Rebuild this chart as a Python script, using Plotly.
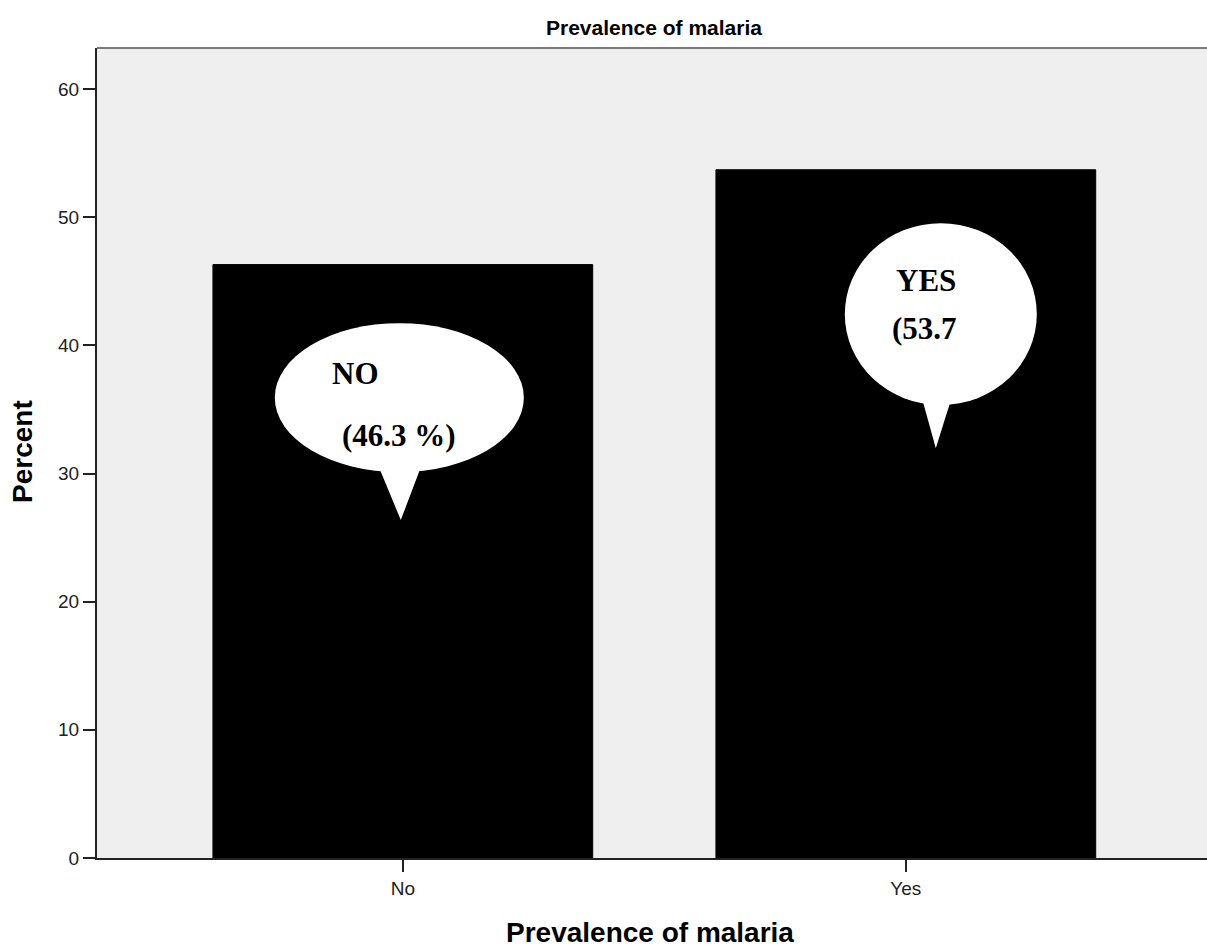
import plotly.graph_objects as go

categories = ["No", "Yes"]
percent = [46.3, 53.7]
y_ticks = [0, 10, 20, 30, 40, 50, 60]
bubble_titles = ["NO", "YES"]
bubble_values = ["(46.3 %)", "(53.7"]

W, H = 1207, 949
L, T, B = 97, 48, 91
plot_w = W - L
plot_h = H - T - B

fig = go.Figure()
fig.add_trace(go.Bar(
    x=[0, 1], y=percent, width=0.755,
    marker=dict(color="black", line=dict(color="black", width=1)),
    hoverinfo="skip", showlegend=False,
))

shapes = []
# speech bubble NO (ellipse + tail)
shapes.append(dict(type="circle", xref="x", yref="y", x0=-0.2545, x1=0.2406, y0=30.11, y1=41.73,
                   fillcolor="white", line=dict(width=0), layer="above"))
shapes.append(dict(type="path", xref="x", yref="y",
                   path="M -0.0497 30.7 L 0.0378 30.7 L -0.004 26.37 Z",
                   fillcolor="white", line=dict(width=0), layer="above"))
# speech bubble YES
shapes.append(dict(type="circle", xref="x", yref="y", x0=0.8787, x1=1.2604, y0=35.34, y1=49.53,
                   fillcolor="white", line=dict(width=0), layer="above"))
shapes.append(dict(type="path", xref="x", yref="y",
                   path="M 1.0298 36.2 L 1.0934 36.2 L 1.0596 31.98 Z",
                   fillcolor="white", line=dict(width=0), layer="above"))
# top border
shapes.append(dict(type="line", xref="paper", yref="paper", x0=0, x1=1, y0=1, y1=1,
                   line=dict(color="#7a7a7a", width=2), layer="above"))

serif = dict(family="Liberation Serif", size=31, color="black")
sans_title = dict(family="Liberation Sans", size=28, color="black")


def px_x(p):
    return (p - L) / plot_w


def px_y(p):
    return (T + plot_h - p) / plot_h


annotations = [
    dict(x=-0.0944, y=37.83, xref="x", yref="y", text="<b>%s</b>" % bubble_titles[0],
         showarrow=False, font=serif),
    dict(x=-0.008, y=33.0, xref="x", yref="y", text="<b>%s</b>" % bubble_values[0],
         showarrow=False, font=serif),
    dict(x=1.0398, y=45.09, xref="x", yref="y", text="<b>%s</b>" % bubble_titles[1],
         showarrow=False, font=serif),
    dict(x=1.0378, y=41.34, xref="x", yref="y", text="<b>%s</b>" % bubble_values[1],
         showarrow=False, font=serif),
    # axis titles
    dict(x=px_x(650), y=px_y(932), xref="paper", yref="paper",
         text="<b>Prevalence of malaria</b>", showarrow=False, font=sans_title,
         xanchor="center", yanchor="middle"),
    dict(x=px_x(22), y=px_y(452), xref="paper", yref="paper",
         text="<b>Percent</b>", showarrow=False, font=sans_title, textangle=-90,
         xanchor="center", yanchor="middle"),
]

fig.update_layout(
    width=W, height=H,
    margin=dict(l=L, r=0, t=T, b=B, autoexpand=False),
    paper_bgcolor="white", plot_bgcolor="#efefef",
    shapes=shapes, annotations=annotations,
    title=dict(text="<b>Prevalence of malaria</b>", x=654 / W, xanchor="center",
               y=1 - 28 / H, yanchor="middle",
               font=dict(family="Liberation Sans", size=21, color="black")),
    font=dict(family="Liberation Sans", size=19, color="#222222"),
)
fig.update_xaxes(
    range=[-0.608, -0.608 + plot_w / 503.0], tickvals=[0, 1], ticktext=categories,
    showgrid=False, zeroline=False,
    showline=True, linecolor="#222222", linewidth=2,
    ticks="outside", ticklen=12, tickcolor="#222222", tickwidth=2,
    tickfont=dict(family="Liberation Sans", size=19, color="#222222"),
)
fig.update_yaxes(
    range=[0, 63.2], tickvals=y_ticks,
    showgrid=False, zeroline=False,
    showline=True, linecolor="#222222", linewidth=2,
    ticks="outside", ticklen=12, tickcolor="#222222", tickwidth=2,
    tickfont=dict(family="Liberation Sans", size=19, color="#222222"),
)

fig.write_html(
    "out.html",
    config={"displayModeBar": False},
    post_script="document.body.style.margin='0';document.body.style.overflow='hidden';",
)
